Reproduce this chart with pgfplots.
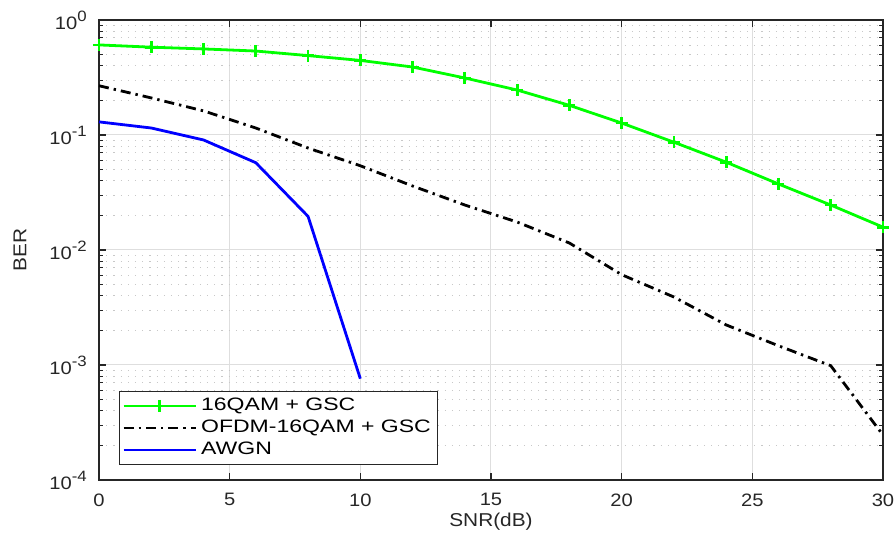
\documentclass[border=0pt]{standalone}
\usepackage{fontspec}
\setmainfont{Liberation Sans}[FakeStretch=1.12]
\newfontfamily\legfont{Liberation Sans}[FakeStretch=1.28]
\usepackage{pgfplots}
\pgfplotsset{compat=1.18}
\definecolor{gridmaj}{RGB}{222,222,222}
\definecolor{gridmin}{RGB}{200,200,200}
\definecolor{axcol}{RGB}{38,38,38}
\definecolor{mgreen}{RGB}{0,255,0}
\definecolor{mblue}{RGB}{0,0,255}
\newcommand{\pw}[1]{10\raisebox{0.45em}{\fontsize{7.5}{8}\selectfont #1}}

\begin{document}
\begin{tikzpicture}
\begin{semilogyaxis}[
    set layers,
    at={(0,0)}, anchor=south west,
    scale only axis, width=392pt, height=230pt,
    xmin=0, xmax=30, ymin=1e-4, ymax=1,
    clip=false,
    xtick={0,5,...,30},
    ytick={1e-4,1e-3,1e-2,1e-1,1},
    yticklabels={\pw{-4},\pw{-3},\pw{-2},\pw{-1},\pw{0}},
    /pgf/number format/assume math mode=true,
    tick align=inside,
    major tick length=3.5pt, minor tick length=2.2pt,
    tick style={axcol, line width=0.6pt},
    axis line style={axcol, line width=0.6pt},
    xmajorgrids, ymajorgrids, yminorgrids,
    major grid style={gridmaj, line width=0.5pt},
    minor grid style={gridmin, line width=0.5pt, dash pattern=on 0.6pt off 3pt},
    tick label style={font=\fontsize{9}{10}\selectfont, text=axcol},
    yticklabel style={xshift=-2.6pt},
    xticklabel style={yshift=-3.2pt},
    label style={font=\fontsize{9.3}{11}\selectfont, text=axcol},
    xlabel={SNR(dB)}, ylabel={BER},
    xlabel style={at={(axis description cs:0.5,0)}, anchor=north, inner sep=0pt, yshift=-16.5pt},
    ylabel style={at={(axis description cs:-0.1008,0.5)}, anchor=center, inner sep=0pt},
    legend cell align=left,
    legend style={at={(0.0255,0.0326)}, anchor=south west,
        draw=axcol, line width=0.5pt, fill=white,
        font=\legfont\fontsize{9}{10}\selectfont,
        inner sep=1.4pt, row sep=-0.8pt},
    legend image code/.code={\draw[mark repeat=2,mark phase=2] plot coordinates {(0pt,0pt) (18pt,0pt) (36pt,0pt)};},
  ]
  \addplot[mgreen, line width=1.4pt, mark=+, mark size=3pt, mark options={line width=1.4pt, solid}] coordinates {
    (0,0.607) (2,0.58) (4,0.56) (6,0.537) (8,0.49) (10,0.445) (12,0.39) (14,0.313)
    (16,0.246) (18,0.181) (20,0.127) (22,0.0865) (24,0.058) (26,0.0375) (28,0.0246) (30,0.0158)
  };
  \addlegendentry{16QAM + GSC}
  \addplot[black, line width=1.4pt, dash pattern=on 5pt off 2.5pt on 1.2pt off 2.5pt] coordinates {
    (0,0.268) (2,0.21) (4,0.162) (6,0.115) (8,0.077) (10,0.054) (12,0.036) (14,0.0246)
    (16,0.0175) (18,0.0115) (20,0.0061) (22,0.0039) (24,0.00223) (26,0.00147) (28,0.000986) (30,0.000246)
  };
  \addlegendentry{OFDM-16QAM + GSC}
  \addplot[mblue, line width=1.4pt] coordinates {
    (0,0.13) (2,0.115) (4,0.0905) (6,0.0574) (8,0.0196) (10,0.00076)
  };
  \addlegendentry{AWGN}
\end{semilogyaxis}
\pgfresetboundingbox
\useasboundingbox (-49.5pt,-28pt) rectangle (398.5pt,240pt);
\end{tikzpicture}
\end{document}
